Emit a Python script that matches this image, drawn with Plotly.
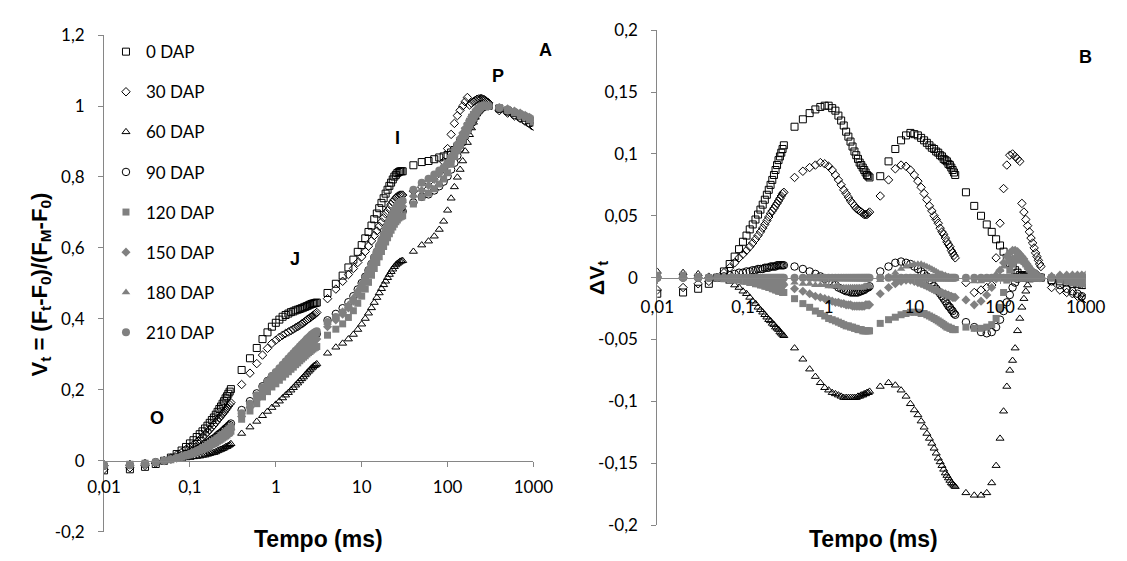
import plotly.graph_objects as go

# ---------------- time grid (ms) ----------------
t_seg1 = [0.01, 0.02, 0.03, 0.04, 0.05, 0.06, 0.07, 0.08, 0.09, 0.10, 0.11, 0.12, 0.13, 0.14, 0.15,
          0.16, 0.17, 0.18, 0.19, 0.20, 0.21, 0.22, 0.23, 0.24, 0.25, 0.26, 0.27, 0.28, 0.29, 0.30]
t_seg2 = [0.4, 0.5, 0.6, 0.7, 0.8, 0.9, 1.0, 1.1, 1.2, 1.3, 1.4, 1.5, 1.6, 1.7, 1.8, 1.9, 2.0,
          2.1, 2.2, 2.3, 2.4, 2.5, 2.6, 2.7, 2.8, 2.9, 3.0]
t_seg3 = [4, 5, 6, 7, 8, 9, 10, 11, 12, 13, 14, 15, 16, 17, 18, 19, 20, 21, 22, 23, 24, 25, 26,
          27, 28, 29, 30]
t_seg4 = [40, 50, 60, 70, 80, 90, 100, 110, 120, 130, 140, 150, 160, 170, 180, 190, 200, 210,
          220, 230, 240, 250, 260, 270, 280, 290, 300]
t_seg5 = [400, 500, 600, 700, 800, 900, 1000]
tempo = t_seg1 + t_seg2 + t_seg3 + t_seg4 + t_seg5

# ---------------- Panel A : Vt ----------------
vt_0 = [-0.027, -0.024, -0.017, -0.009, 0.000, 0.009, 0.019, 0.029, 0.039, 0.049, 0.058, 0.067, 0.075, 0.083, 0.091,
        0.099, 0.107, 0.115, 0.122, 0.130, 0.138, 0.146, 0.153, 0.161, 0.168, 0.176, 0.182, 0.189, 0.195, 0.202,
        0.256, 0.289, 0.318, 0.343, 0.362, 0.378, 0.389, 0.398, 0.406, 0.411, 0.415, 0.419, 0.421, 0.424, 0.426,
        0.428, 0.430, 0.432, 0.434, 0.436, 0.438, 0.440, 0.442, 0.443, 0.444, 0.445, 0.446,
        0.473, 0.499, 0.522, 0.545, 0.567, 0.589, 0.608, 0.627, 0.645, 0.663, 0.681, 0.697, 0.712, 0.727, 0.740,
        0.753, 0.764, 0.775, 0.784, 0.793, 0.801, 0.806, 0.811, 0.814, 0.816, 0.816, 0.816,
        0.833, 0.842, 0.845, 0.850, 0.855, 0.858, 0.862, 0.869, 0.876, 0.886, 0.897, 0.908, 0.920, 0.932, 0.944,
        0.955, 0.965, 0.974, 0.982, 0.988, 0.993, 0.997, 0.999, 1.000, 1.000, 1.000, 1.000,
        0.993, 0.987, 0.980, 0.973, 0.967, 0.960, 0.954]
vt_30 = [-0.024, -0.020, -0.013, -0.007, 0.000, 0.008, 0.016, 0.024, 0.032, 0.039, 0.046, 0.053, 0.060, 0.067, 0.074,
         0.081, 0.088, 0.095, 0.101, 0.108, 0.115, 0.121, 0.126, 0.132, 0.137, 0.143, 0.148, 0.154, 0.159, 0.164,
         0.215, 0.247, 0.274, 0.298, 0.317, 0.331, 0.340, 0.348, 0.354, 0.359, 0.363, 0.367, 0.371, 0.375, 0.378,
         0.382, 0.386, 0.389, 0.393, 0.397, 0.400, 0.403, 0.406, 0.409, 0.412, 0.415, 0.418,
         0.457, 0.484, 0.506, 0.525, 0.542, 0.559, 0.575, 0.590, 0.605, 0.620, 0.635, 0.648, 0.661, 0.673, 0.685,
         0.696, 0.705, 0.714, 0.723, 0.730, 0.736, 0.741, 0.745, 0.747, 0.749, 0.749, 0.749,
         0.760, 0.772, 0.785, 0.799, 0.812, 0.843, 0.880, 0.920, 0.951, 0.973, 0.988, 1.000, 1.012, 1.024, 1.003,
         1.008, 1.012, 1.016, 1.019, 1.020, 1.021, 1.021, 1.019, 1.017, 1.014, 1.011, 1.009,
         0.987, 0.980, 0.972, 0.965, 0.957, 0.950, 0.943]
vt_60 = [-0.009, -0.008, -0.005, -0.003, 0.000, 0.003, 0.005, 0.006, 0.008, 0.009, 0.011, 0.012, 0.013, 0.015, 0.016,
         0.018, 0.020, 0.022, 0.023, 0.025, 0.028, 0.030, 0.032, 0.034, 0.036, 0.039, 0.040, 0.043, 0.045, 0.048,
         0.077, 0.095, 0.111, 0.127, 0.139, 0.150, 0.159, 0.168, 0.177, 0.185, 0.192, 0.199, 0.206, 0.213, 0.219,
         0.225, 0.231, 0.236, 0.242, 0.247, 0.252, 0.256, 0.261, 0.264, 0.268, 0.270, 0.273,
         0.303, 0.320, 0.331, 0.343, 0.356, 0.370, 0.385, 0.401, 0.416, 0.431, 0.446, 0.460, 0.473, 0.485, 0.496,
         0.506, 0.516, 0.525, 0.533, 0.540, 0.547, 0.552, 0.556, 0.559, 0.562, 0.563, 0.564,
         0.590, 0.608, 0.619, 0.633, 0.652, 0.675, 0.706, 0.740, 0.772, 0.799, 0.821, 0.845, 0.873, 0.897, 0.919,
         0.938, 0.954, 0.968, 0.980, 0.989, 0.996, 1.001, 1.003, 1.003, 1.002, 1.001, 1.000,
         0.995, 0.990, 0.983, 0.977, 0.970, 0.964, 0.958]
vt_90 = [-0.014, -0.012, -0.008, -0.004, 0.000, 0.005, 0.010, 0.015, 0.020, 0.024, 0.029, 0.033, 0.038, 0.042, 0.047,
         0.051, 0.055, 0.060, 0.063, 0.067, 0.072, 0.076, 0.079, 0.083, 0.087, 0.091, 0.094, 0.098, 0.101, 0.105,
         0.143, 0.168, 0.190, 0.210, 0.225, 0.238, 0.247, 0.256, 0.265, 0.272, 0.279, 0.286, 0.292, 0.299, 0.304,
         0.310, 0.316, 0.321, 0.326, 0.332, 0.336, 0.341, 0.345, 0.349, 0.353, 0.355, 0.358,
         0.396, 0.414, 0.430, 0.447, 0.464, 0.483, 0.501, 0.519, 0.537, 0.555, 0.573, 0.588, 0.603, 0.616, 0.629,
         0.641, 0.652, 0.662, 0.671, 0.679, 0.686, 0.691, 0.696, 0.699, 0.702, 0.702, 0.703,
         0.728, 0.744, 0.751, 0.762, 0.774, 0.787, 0.802, 0.821, 0.840, 0.860, 0.880, 0.898, 0.915, 0.931, 0.945,
         0.957, 0.967, 0.976, 0.983, 0.989, 0.993, 0.997, 0.999, 1.000, 1.000, 1.000, 1.000,
         0.992, 0.984, 0.975, 0.967, 0.959, 0.951, 0.943]
vt_120 = [-0.012, -0.010, -0.007, -0.004, 0.000, 0.003, 0.007, 0.010, 0.014, 0.017, 0.021, 0.024, 0.028, 0.031, 0.035,
          0.038, 0.042, 0.045, 0.048, 0.051, 0.055, 0.058, 0.061, 0.064, 0.067, 0.070, 0.073, 0.077, 0.079, 0.083,
          0.117, 0.140, 0.161, 0.180, 0.195, 0.208, 0.217, 0.227, 0.236, 0.244, 0.251, 0.258, 0.264, 0.271, 0.276,
          0.282, 0.287, 0.292, 0.296, 0.301, 0.305, 0.308, 0.312, 0.315, 0.318, 0.320, 0.322,
          0.354, 0.371, 0.386, 0.404, 0.423, 0.444, 0.464, 0.484, 0.503, 0.523, 0.542, 0.559, 0.575, 0.590, 0.604,
          0.617, 0.629, 0.640, 0.650, 0.659, 0.667, 0.674, 0.679, 0.684, 0.687, 0.689, 0.691,
          0.724, 0.743, 0.754, 0.767, 0.780, 0.794, 0.812, 0.836, 0.858, 0.880, 0.899, 0.916, 0.931, 0.945, 0.957,
          0.968, 0.976, 0.983, 0.989, 0.993, 0.997, 1.000, 1.001, 1.001, 1.000, 1.000, 1.000,
          0.995, 0.988, 0.981, 0.974, 0.968, 0.961, 0.955]
vt_150 = [-0.013, -0.012, -0.008, -0.004, 0.000, 0.004, 0.007, 0.011, 0.015, 0.018, 0.022, 0.026, 0.030, 0.033, 0.037,
          0.041, 0.045, 0.048, 0.051, 0.055, 0.059, 0.062, 0.065, 0.069, 0.072, 0.076, 0.078, 0.082, 0.085, 0.089,
          0.125, 0.150, 0.172, 0.192, 0.208, 0.222, 0.232, 0.242, 0.251, 0.260, 0.267, 0.275, 0.281, 0.288, 0.294,
          0.299, 0.305, 0.310, 0.315, 0.320, 0.324, 0.328, 0.332, 0.336, 0.339, 0.341, 0.343,
          0.378, 0.397, 0.413, 0.431, 0.450, 0.470, 0.489, 0.508, 0.527, 0.546, 0.565, 0.582, 0.598, 0.613, 0.628,
          0.641, 0.653, 0.665, 0.675, 0.685, 0.693, 0.700, 0.705, 0.710, 0.713, 0.715, 0.717,
          0.746, 0.762, 0.776, 0.793, 0.810, 0.826, 0.842, 0.860, 0.877, 0.894, 0.910, 0.924, 0.937, 0.949, 0.960,
          0.970, 0.977, 0.984, 0.990, 0.994, 0.998, 1.001, 1.002, 1.002, 1.001, 1.000, 1.000,
          0.996, 0.992, 0.986, 0.980, 0.974, 0.968, 0.962]
vt_180 = [-0.012, -0.010, -0.007, -0.004, 0.000, 0.004, 0.008, 0.011, 0.015, 0.019, 0.023, 0.026, 0.030, 0.034, 0.038,
          0.042, 0.045, 0.049, 0.052, 0.056, 0.060, 0.064, 0.066, 0.070, 0.073, 0.077, 0.080, 0.084, 0.087, 0.091,
          0.130, 0.156, 0.180, 0.201, 0.218, 0.233, 0.243, 0.254, 0.264, 0.273, 0.280, 0.288, 0.295, 0.302, 0.308,
          0.314, 0.320, 0.325, 0.330, 0.335, 0.339, 0.343, 0.348, 0.351, 0.354, 0.356, 0.358,
          0.389, 0.406, 0.422, 0.441, 0.461, 0.482, 0.503, 0.523, 0.543, 0.562, 0.581, 0.598, 0.614, 0.629, 0.643,
          0.656, 0.668, 0.680, 0.690, 0.700, 0.708, 0.715, 0.720, 0.725, 0.729, 0.730, 0.732,
          0.762, 0.781, 0.792, 0.805, 0.818, 0.830, 0.842, 0.857, 0.872, 0.888, 0.904, 0.919, 0.933, 0.946, 0.958,
          0.968, 0.976, 0.983, 0.989, 0.994, 0.997, 1.000, 1.001, 1.001, 1.001, 1.000, 1.000,
          0.996, 0.991, 0.985, 0.978, 0.972, 0.966, 0.960]
vt_210 = [-0.014, -0.012, -0.008, -0.004, 0.000, 0.004, 0.008, 0.012, 0.016, 0.020, 0.024, 0.028, 0.032, 0.036, 0.040,
          0.044, 0.048, 0.052, 0.055, 0.059, 0.063, 0.067, 0.070, 0.074, 0.077, 0.081, 0.084, 0.088, 0.091, 0.095,
          0.134, 0.161, 0.185, 0.207, 0.224, 0.239, 0.250, 0.261, 0.271, 0.280, 0.288, 0.296, 0.303, 0.310, 0.316,
          0.322, 0.328, 0.333, 0.338, 0.343, 0.347, 0.351, 0.355, 0.358, 0.361, 0.363, 0.365,
          0.391, 0.405, 0.418, 0.434, 0.452, 0.472, 0.492, 0.512, 0.532, 0.552, 0.572, 0.590, 0.607, 0.623, 0.638,
          0.652, 0.665, 0.677, 0.688, 0.698, 0.707, 0.714, 0.720, 0.725, 0.729, 0.731, 0.733,
          0.764, 0.784, 0.795, 0.807, 0.818, 0.827, 0.836, 0.848, 0.860, 0.874, 0.888, 0.902, 0.916, 0.930, 0.943,
          0.955, 0.965, 0.974, 0.982, 0.988, 0.993, 0.997, 0.999, 1.000, 1.000, 1.000, 1.000,
          0.995, 0.990, 0.984, 0.978, 0.972, 0.966, 0.960]

# ---------------- Panel B : delta Vt ----------------
dvt_0 = [-0.013, -0.012, -0.009, -0.005, 0.000, 0.005, 0.011, 0.017, 0.023, 0.029, 0.034, 0.039, 0.043, 0.047, 0.051,
         0.055, 0.059, 0.063, 0.067, 0.071, 0.075, 0.079, 0.083, 0.087, 0.091, 0.095, 0.098, 0.101, 0.104, 0.107,
         0.122, 0.128, 0.133, 0.136, 0.138, 0.139, 0.139, 0.137, 0.135, 0.131, 0.127, 0.123, 0.118, 0.114, 0.110,
         0.106, 0.102, 0.099, 0.096, 0.093, 0.091, 0.089, 0.087, 0.085, 0.083, 0.082, 0.081,
         0.082, 0.094, 0.104, 0.111, 0.115, 0.117, 0.116, 0.115, 0.113, 0.111, 0.109, 0.107, 0.105, 0.104, 0.102,
         0.101, 0.099, 0.098, 0.096, 0.095, 0.094, 0.092, 0.091, 0.089, 0.087, 0.085, 0.083,
         0.069, 0.058, 0.050, 0.043, 0.037, 0.031, 0.026, 0.021, 0.016, 0.012, 0.009, 0.006, 0.004, 0.002, 0.001,
         0.000, 0.000, 0.000, 0.000, 0.000, 0.000, 0.000, 0.000, 0.000, 0.000, 0.000, 0.000,
         -0.002, -0.003, -0.004, -0.005, -0.005, -0.006, -0.006]
dvt_30 = [-0.010, -0.008, -0.005, -0.003, 0.000, 0.004, 0.008, 0.012, 0.016, 0.019, 0.022, 0.025, 0.028, 0.031, 0.034,
          0.037, 0.040, 0.043, 0.046, 0.049, 0.052, 0.054, 0.056, 0.058, 0.060, 0.062, 0.064, 0.066, 0.068, 0.069,
          0.081, 0.086, 0.089, 0.091, 0.093, 0.092, 0.090, 0.087, 0.083, 0.079, 0.075, 0.071, 0.068, 0.065, 0.062,
          0.060, 0.058, 0.056, 0.055, 0.054, 0.053, 0.052, 0.051, 0.051, 0.051, 0.052, 0.053,
          0.066, 0.079, 0.088, 0.091, 0.090, 0.087, 0.083, 0.078, 0.073, 0.068, 0.063, 0.058, 0.054, 0.050, 0.047,
          0.044, 0.040, 0.037, 0.035, 0.032, 0.029, 0.027, 0.025, 0.022, 0.020, 0.018, 0.016,
          -0.004, -0.012, -0.010, -0.008, -0.006, 0.016, 0.044, 0.072, 0.091, 0.099, 0.100, 0.098, 0.096, 0.094, 0.060,
          0.053, 0.047, 0.042, 0.037, 0.032, 0.028, 0.024, 0.020, 0.017, 0.014, 0.011, 0.009,
          -0.008, -0.010, -0.012, -0.013, -0.015, -0.016, -0.017]
dvt_60 = [0.005, 0.004, 0.003, 0.001, 0.000, -0.001, -0.003, -0.006, -0.008, -0.011, -0.013, -0.016, -0.019, -0.021, -0.024,
          -0.026, -0.028, -0.030, -0.032, -0.034, -0.035, -0.037, -0.038, -0.040, -0.041, -0.042, -0.044, -0.045, -0.046, -0.047,
          -0.057, -0.066, -0.074, -0.080, -0.085, -0.089, -0.091, -0.093, -0.094, -0.095, -0.096, -0.097, -0.097, -0.097, -0.097,
          -0.097, -0.097, -0.097, -0.096, -0.096, -0.095, -0.095, -0.094, -0.094, -0.093, -0.093, -0.092,
          -0.088, -0.085, -0.087, -0.091, -0.096, -0.102, -0.107, -0.111, -0.116, -0.121, -0.126, -0.130, -0.134, -0.138, -0.142,
          -0.146, -0.149, -0.152, -0.155, -0.158, -0.160, -0.162, -0.164, -0.166, -0.167, -0.168, -0.169,
          -0.174, -0.176, -0.176, -0.174, -0.166, -0.152, -0.130, -0.108, -0.088, -0.075, -0.067, -0.057, -0.043, -0.033, -0.024,
          -0.017, -0.011, -0.006, -0.002, 0.001, 0.003, 0.004, 0.004, 0.003, 0.002, 0.001, 0.000,
          0.000, 0.000, -0.001, -0.001, -0.002, -0.002, -0.002]
dvt_90 = [0.000, 0.000, 0.000, 0.000, 0.000, 0.001, 0.002, 0.003, 0.004, 0.004, 0.005, 0.005, 0.006, 0.006, 0.007,
          0.007, 0.007, 0.008, 0.008, 0.008, 0.009, 0.009, 0.009, 0.009, 0.010, 0.010, 0.010, 0.010, 0.010, 0.010,
          0.009, 0.007, 0.005, 0.003, 0.001, -0.001, -0.003, -0.005, -0.006, -0.008, -0.009, -0.010, -0.011, -0.011, -0.012,
          -0.012, -0.012, -0.012, -0.012, -0.011, -0.011, -0.010, -0.010, -0.009, -0.008, -0.008, -0.007,
          0.005, 0.009, 0.012, 0.013, 0.012, 0.011, 0.009, 0.007, 0.005, 0.003, 0.001, -0.002, -0.004, -0.007, -0.009,
          -0.011, -0.013, -0.015, -0.017, -0.019, -0.021, -0.023, -0.024, -0.026, -0.027, -0.029, -0.030,
          -0.036, -0.040, -0.044, -0.045, -0.044, -0.040, -0.034, -0.027, -0.020, -0.014, -0.008, -0.004, -0.001, 0.001, 0.002,
          0.002, 0.002, 0.002, 0.001, 0.001, 0.000, 0.000, 0.000, 0.000, 0.000, 0.000, 0.000,
          -0.003, -0.006, -0.009, -0.011, -0.013, -0.015, -0.017]
dvt_120 = [0.002, 0.002, 0.001, 0.000, 0.000, -0.001, -0.001, -0.002, -0.002, -0.003, -0.003, -0.004, -0.004, -0.005, -0.005,
           -0.006, -0.006, -0.007, -0.007, -0.008, -0.008, -0.009, -0.009, -0.010, -0.010, -0.011, -0.011, -0.011, -0.012, -0.012,
           -0.017, -0.021, -0.024, -0.027, -0.029, -0.031, -0.033, -0.034, -0.035, -0.036, -0.037, -0.038, -0.039, -0.039, -0.040,
           -0.040, -0.041, -0.041, -0.042, -0.042, -0.042, -0.043, -0.043, -0.043, -0.043, -0.043, -0.043,
           -0.037, -0.034, -0.032, -0.030, -0.029, -0.028, -0.028, -0.028, -0.029, -0.029, -0.030, -0.031, -0.032, -0.033, -0.034,
           -0.035, -0.036, -0.037, -0.038, -0.039, -0.040, -0.040, -0.041, -0.041, -0.042, -0.042, -0.042,
           -0.040, -0.041, -0.041, -0.040, -0.038, -0.033, -0.024, -0.012, -0.002, 0.006, 0.011, 0.014, 0.015, 0.015, 0.014,
           0.013, 0.011, 0.009, 0.007, 0.005, 0.004, 0.003, 0.002, 0.001, 0.000, 0.000, 0.000,
           0.000, -0.002, -0.003, -0.004, -0.004, -0.005, -0.005]
dvt_150 = [0.001, 0.000, 0.000, 0.000, 0.000, 0.000, -0.001, -0.001, -0.001, -0.002, -0.002, -0.002, -0.002, -0.003, -0.003,
           -0.003, -0.003, -0.004, -0.004, -0.004, -0.004, -0.005, -0.005, -0.005, -0.005, -0.005, -0.006, -0.006, -0.006, -0.006,
           -0.009, -0.011, -0.013, -0.015, -0.016, -0.017, -0.018, -0.019, -0.020, -0.020, -0.021, -0.021, -0.022, -0.022, -0.022,
           -0.023, -0.023, -0.023, -0.023, -0.023, -0.023, -0.023, -0.023, -0.022, -0.022, -0.022, -0.022,
           -0.013, -0.008, -0.005, -0.003, -0.002, -0.002, -0.003, -0.004, -0.005, -0.006, -0.007, -0.008, -0.009, -0.010, -0.010,
           -0.011, -0.012, -0.012, -0.013, -0.013, -0.014, -0.014, -0.015, -0.015, -0.016, -0.016, -0.016,
           -0.018, -0.022, -0.019, -0.014, -0.008, -0.001, 0.006, 0.012, 0.017, 0.020, 0.022, 0.022, 0.021, 0.019, 0.017,
           0.015, 0.012, 0.010, 0.008, 0.006, 0.005, 0.004, 0.003, 0.002, 0.001, 0.000, 0.000,
           0.001, 0.002, 0.002, 0.002, 0.002, 0.002, 0.002]
dvt_180 = [0.002, 0.002, 0.001, 0.000, 0.000, 0.000, 0.000, -0.001, -0.001, -0.001, -0.001, -0.002, -0.002, -0.002, -0.002,
           -0.002, -0.003, -0.003, -0.003, -0.003, -0.003, -0.003, -0.004, -0.004, -0.004, -0.004, -0.004, -0.004, -0.004, -0.004,
           -0.004, -0.005, -0.005, -0.006, -0.006, -0.006, -0.007, -0.007, -0.007, -0.007, -0.008, -0.008, -0.008, -0.008, -0.008,
           -0.008, -0.008, -0.008, -0.008, -0.008, -0.008, -0.008, -0.007, -0.007, -0.007, -0.007, -0.007,
           -0.002, 0.001, 0.004, 0.007, 0.009, 0.010, 0.011, 0.011, 0.011, 0.010, 0.009, 0.008, 0.007, 0.006, 0.005,
           0.004, 0.003, 0.003, 0.002, 0.002, 0.001, 0.001, 0.000, 0.000, 0.000, -0.001, -0.001,
           -0.002, -0.003, -0.003, -0.002, 0.000, 0.003, 0.006, 0.009, 0.012, 0.014, 0.016, 0.017, 0.017, 0.016, 0.015,
           0.013, 0.011, 0.009, 0.007, 0.006, 0.004, 0.003, 0.002, 0.001, 0.001, 0.000, 0.000,
           0.001, 0.001, 0.001, 0.000, 0.000, 0.000, 0.000]
dvt_210 = [0, 0, 0, 0, 0, 0, 0, 0, 0, 0, 0, 0, 0, 0, 0, 0, 0, 0, 0, 0, 0, 0, 0, 0, 0, 0, 0, 0, 0, 0,
           0, 0, 0, 0, 0, 0, 0, 0, 0, 0, 0, 0, 0, 0, 0, 0, 0, 0, 0, 0, 0, 0, 0, 0, 0, 0, 0,
           0, 0, 0, 0, 0, 0, 0, 0, 0, 0, 0, 0, 0, 0, 0, 0, 0, 0, 0, 0, 0, 0, 0, 0, 0, 0, 0,
           0, 0, 0, 0, 0, 0, 0, 0, 0, 0, 0, 0, 0, 0, 0, 0, 0, 0, 0, 0, 0, 0, 0, 0, 0, 0, 0,
           0, 0, 0, 0, 0, 0, 0]

series_names = ["0 DAP", "30 DAP", "60 DAP", "90 DAP", "120 DAP", "150 DAP", "180 DAP", "210 DAP"]
vt_all = [vt_0, vt_30, vt_60, vt_90, vt_120, vt_150, vt_180, vt_210]
dvt_all = [dvt_0, dvt_30, dvt_60, dvt_90, dvt_120, dvt_150, dvt_180, dvt_210]

x_ticks = [0.01, 0.1, 1, 10, 100, 1000]
x_ticktext = ["0,01", "0,1", "1", "10", "100", "1000"]
yA_ticks = [-0.2, 0, 0.2, 0.4, 0.6, 0.8, 1, 1.2]
yA_ticktext = ["-0,2", "0", "0,2", "0,4", "0,6", "0,8", "1", "1,2"]
yB_ticks = [-0.2, -0.15, -0.1, -0.05, 0, 0.05, 0.1, 0.15, 0.2]
yB_ticktext = ["-0,2", "-0,15", "-0,1", "-0,05", "0", "0,05", "0,1", "0,15", "0,2"]

for arr in vt_all + dvt_all:
    assert len(arr) == len(tempo), len(arr)

# ---------------- styles ----------------
GRAY = "#808080"
BLACK = "#000000"
marker_styles = [
    dict(symbol="square-open", size=7, color=BLACK, line=dict(width=1, color=BLACK)),
    dict(symbol="diamond-open", size=6.5, color=BLACK, line=dict(width=1, color=BLACK)),
    dict(symbol="triangle-up-open", size=7, color=BLACK, line=dict(width=1, color=BLACK)),
    dict(symbol="circle-open", size=7.5, color=BLACK, line=dict(width=1, color=BLACK)),
    dict(symbol="square", size=7, color=GRAY, line=dict(width=0)),
    dict(symbol="diamond", size=7, color=GRAY, line=dict(width=0)),
    dict(symbol="triangle-up", size=7.5, color=GRAY, line=dict(width=0)),
    dict(symbol="circle", size=8, color=GRAY, line=dict(width=0)),
]

fig = go.Figure()
for name, vt, dvt, mk in zip(series_names, vt_all, dvt_all, marker_styles):
    fig.add_trace(go.Scatter(x=tempo, y=vt, mode="markers", name=name, marker=mk,
                             xaxis="x", yaxis="y", legendgroup=name, showlegend=True))
    fig.add_trace(go.Scatter(x=tempo, y=dvt, mode="markers", name=name, marker=mk,
                             xaxis="x2", yaxis="y2", legendgroup=name, showlegend=False))

W, H = 1127, 561
AX_GRAY = "#868686"
tickfont = dict(family="Lato", size=17, color="black")
common = dict(showgrid=False, zeroline=False, showline=True, linecolor=AX_GRAY, linewidth=1,
              ticks="outside", ticklen=5, tickwidth=1, tickcolor=AX_GRAY, tickfont=tickfont)


def px_x(p):
    return p / W


def px_y(p):
    return (H - p) / H


fig.update_layout(
    width=W, height=H, autosize=False,
    margin=dict(l=0, r=0, t=0, b=0, pad=0),
    paper_bgcolor="white", plot_bgcolor="white",
    xaxis=dict(type="log", range=[-2, 3], domain=[px_x(90), px_x(534)], anchor="free",
               position=px_y(467.3), tickvals=x_ticks, ticktext=x_ticktext, ticklabelstandoff=6, **common),
    yaxis=dict(range=[-0.2, 1.2], domain=[px_y(541), px_y(25)], anchor="x",
               tickvals=yA_ticks, ticktext=yA_ticktext, ticklabelstandoff=10, **common),
    xaxis2=dict(type="log", range=[-2, 3], domain=[px_x(662), px_x(1105)], anchor="free",
                position=px_y(277), tickvals=x_ticks, ticktext=x_ticktext, ticklabelstandoff=9, **common),
    yaxis2=dict(range=[-0.2, 0.2], domain=[px_y(534), px_y(20)], anchor="x2",
                tickvals=yB_ticks, ticktext=yB_ticktext, ticklabelstandoff=10, **common),
    legend=dict(x=px_x(92), y=px_y(24), xanchor="left", yanchor="top", bgcolor="rgba(0,0,0,0)",
                font=dict(family="Lato", size=17, color="black"), tracegroupgap=15,
                itemclick=False, itemdoubleclick=False),
    showlegend=True,
)

bold = dict(family="Liberation Sans, Arial", color="black")
annots = [
    ("<b>A</b>", 546, 40, 18, 0),
    ("<b>P</b>", 497, 68, 18, 0),
    ("<b>I</b>", 393, 132, 18, 0),
    ("<b>J</b>", 287, 258, 18, 0),
    ("<b>O</b>", 145, 423, 18, 0),
    ("<b>B</b>", 1105, 48, 18, 0),
    ("<b>Tempo (ms)</b>", 312, 549, 23, 0),
    ("<b>Tempo (ms)</b>", 886, 549, 23, 0),
    ("<b>V<sub>t</sub> = (F<sub>t</sub>-F<sub>0</sub>)/(F<sub>M</sub>-F<sub>0</sub>)</b>", 25, 284, 22, -90),
    ("<b>ΔV<sub>t</sub></b>", 600, 277, 21, -90),
]
for text, xp, yp, size, ang in annots:
    fig.add_annotation(text=text, x=px_x(xp), y=px_y(yp), xref="paper", yref="paper",
                       showarrow=False, xanchor="center", yanchor="middle", textangle=ang,
                       font=dict(size=size, **bold))

fig.write_html("out.html")
